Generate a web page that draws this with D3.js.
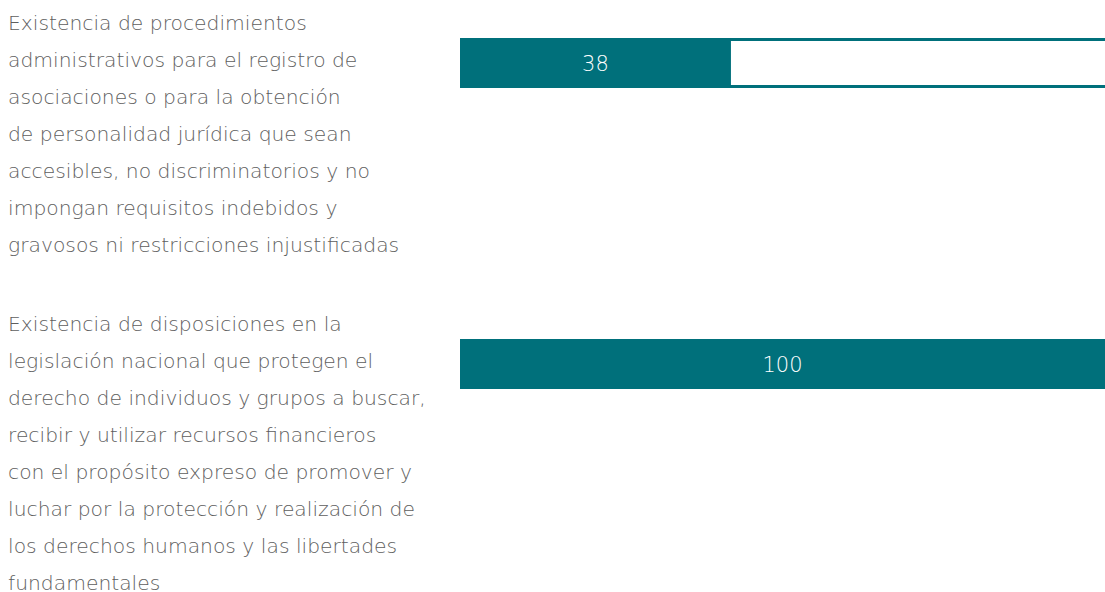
<!DOCTYPE html>
<html>
<head>
<meta charset="utf-8">
<script src="https://cdn.jsdelivr.net/npm/d3@7"></script>
<style>
  body { margin: 0; background: #fff; }
  svg { display: block; }
</style>
</head>
<body>
<div id="chart"></div>
<script>
/**
 * DATA
 * */
const labelLines = [
  [
    "Existencia de procedimientos",
    "administrativos para el registro de",
    "asociaciones o para la obtención",
    "de personalidad jurídica que sean",
    "accesibles, no discriminatorios y no",
    "impongan requisitos indebidos y",
    "gravosos ni restricciones injustificadas"
  ],
  [
    "Existencia de disposiciones en la",
    "legislación nacional que protegen el",
    "derecho de individuos y grupos a buscar,",
    "recibir y utilizar recursos financieros",
    "con el propósito expreso de promover y",
    "luchar por la protección y realización de",
    "los derechos humanos y las libertades",
    "fundamentales"
  ]
];
const values = [38, 100];

/**
 * CONSTANTS
 * */
const width = 1105,
  height = 592,
  barH = 50,
  lineH = 37.05,
  teal = "#00707b",
  textColor = "#5e5e5e",
  font = "'DejaVu Sans', sans-serif";

const svg = d3.select("#chart")
  .append("svg")
  .attr("width", width)
  .attr("height", height);

const idx = values.map((d, i) => i);

// bars band
const y = d3.scaleBand()
  .domain(idx)
  .range([38, 640]);

// full bar runs past the right edge of the page (it gets clipped)
const x = d3.scaleLinear()
  .domain([0, 100])
  .range([460, 1173]);

svg.append("clipPath")
  .attr("id", "clip")
  .append("rect")
  .attr("x", 0).attr("y", 0)
  .attr("width", width).attr("height", height);

const bars = svg.append("g").attr("clip-path", "url(#clip)");

// track (outline)
bars.selectAll(".track")
  .data(idx)
  .join("rect")
  .attr("class", "track")
  .attr("x", x(0) + 1.5)
  .attr("y", d => y(d) + 1.5)
  .attr("width", x(100) - x(0))
  .attr("height", barH - 3)
  .attr("fill", "#fff")
  .attr("stroke", teal)
  .attr("stroke-width", 3);

bars.selectAll(".bar")
  .data(idx)
  .join("rect")
  .attr("class", "bar")
  .attr("x", x(0))
  .attr("y", d => y(d))
  .attr("width", d => x(values[d]) - x(0))
  .attr("height", barH)
  .attr("fill", teal);

// value labels, centred on the visible part of the bar
svg.selectAll(".val")
  .data(idx)
  .join("text")
  .attr("class", "val")
  .attr("x", d => (x(0) + Math.min(x(values[d]), width)) / 2)
  .attr("y", d => y(d) + barH / 2)
  .attr("dy", "0.36em")
  .attr("text-anchor", "middle")
  .attr("fill", "#fff")
  .style("font-family", font)
  .style("font-weight", 200)
  .style("font-size", "21px")
  .text(d => values[d]);

// category labels, wrapped
const lab = svg.selectAll(".lab")
  .data(idx)
  .join("text")
  .attr("class", "lab")
  .attr("fill", textColor)
  .style("font-family", font)
  .style("font-weight", 200)
  .style("font-size", "20.3px");

lab.selectAll("tspan")
  .data(d => labelLines[d].map((t, j) => ({ t, j, d })))
  .join("tspan")
  .attr("x", 8)
  .attr("y", o => y(o.d) - 8 + o.j * lineH)
  .text(o => o.t);
</script>
</body>
</html>
